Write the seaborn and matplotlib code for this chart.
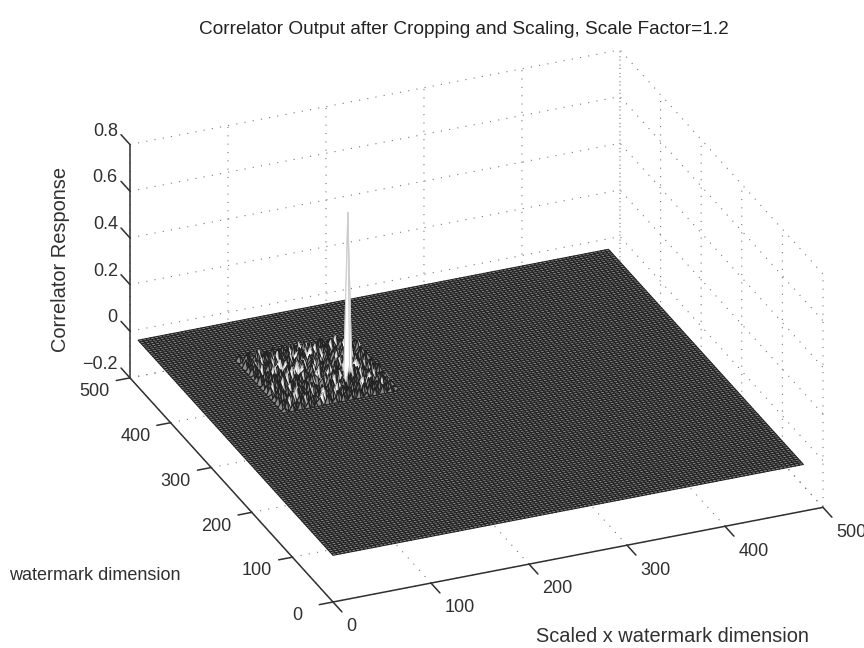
import numpy as np
import seaborn as sns
import matplotlib
matplotlib.use('Agg')
import matplotlib.pyplot as plt
from mpl_toolkits.mplot3d import proj3d

title = 'Correlator Output after Cropping and Scaling, Scale Factor=1.2'
x_label = 'Scaled x watermark dimension'
y_label = 'watermark dimension'
z_label = 'Correlator Response'
x_ticks = [0, 100, 200, 300, 400, 500]
y_ticks = [0, 100, 200, 300, 400, 500]
z_ticks = [-0.2, 0, 0.2, 0.4, 0.6, 0.8]
z_tick_labels = ['\u22120.2', '0', '0.2', '0.4', '0.6', '0.8']

surface_end = 480
mesh_step = 4
patch_x0 = 72
patch_y0 = 292
peak_x = 156
peak_y = 340
peak_value = 0.69

# correlator noise in the cropped area, thousandths, read by eye
patch_noise = [
    [12, -8, 21, -14, 30, -6, 18, -20, 9, 26, -12, 33, -4, 15, -22, 28, -9, 19, -16, 36, -7, 12, -18, 25, -11, 31, -5, 14, -10],
    [-15, 34, -7, 19, -24, 41, -11, 27, -18, 8, 38, -16, 22, -27, 35, -3, 24, -19, 30, -8, 17, -25, 39, -6, 20, -14, 27, -20, 8],
    [26, -12, 38, -20, 11, -9, 32, -5, 24, -28, 14, 29, -13, 40, -8, 18, -26, 33, -10, 22, -29, 35, -4, 16, -21, 37, -12, 24, -6],
    [-9, 22, -17, 44, -6, 25, -23, 36, -14, 19, -7, 42, -21, 12, 28, -17, 34, -5, 20, -24, 41, -9, 15, -30, 26, -8, 33, -15, 19],
    [31, -22, 14, -10, 36, -18, 9, -26, 40, -5, 23, -19, 35, -11, 6, 38, -13, 21, -27, 32, -6, 24, -16, 37, -10, 18, -23, 29, -7],
    [-6, 17, -29, 27, -13, 45, -4, 20, -16, 33, -24, 11, -8, 30, -21, 16, -7, 43, -12, 25, -19, 10, 34, -14, 28, -26, 13, -9, 22],
    [20, -11, 37, -5, 23, -25, 30, -12, 7, -19, 39, -6, 26, -15, 42, -23, 29, -3, 18, -28, 37, -13, 21, -5, 40, -11, 24, -17, 31],
    [-18, 28, -8, 16, -31, 12, -15, 35, -22, 43, -10, 21, -28, 9, -5, 33, -18, 24, -9, 46, -16, 31, -7, 19, -24, 35, -4, 27, -12],
    [9, -25, 41, -14, 29, -7, 38, -3, 18, -12, 27, -33, 16, 37, -19, 11, 40, -14, 30, -6, 22, -20, 44, -11, 15, -8, 32, -21, 16],
    [34, -4, 13, -21, 6, 32, -19, 24, -30, 36, -8, 19, -11, 25, -6, 44, -25, 8, -17, 35, -10, 27, -3, 38, -18, 29, -14, 10, -5],
    [-13, 39, -26, 33, -9, 17, -6, 42, -11, 21, -17, 46, -5, -24, 31, -12, 20, -30, 38, -4, 28, -15, 18, -27, 42, -7, 23, -28, 36],
    [23, -7, 18, -12, 44, -20, 26, -16, 31, -3, 12, -27, 34, 15, -10, 27, -5, 36, -13, 23, -32, 41, -9, 30, -12, 20, -6, 37, -11],
    [-21, 30, -3, 25, -17, 37, -10, 14, -24, 40, -13, 28, -8, 38, -20, 5, 33, -16, 26, -9, 16, 0, 35, -19, 8, -25, 34, -13, 24],
    [15, -16, 35, -28, 11, -5, 43, -22, 29, -7, 33, -18, 20, -12, 45, -26, 17, -8, 41, -21, 30, 60, -6, 24, -14, 39, -10, 18, -4],
    [-4, 26, -13, 40, -23, 21, -8, 34, -15, 17, -29, 37, -5, 24, -9, 31, -14, 39, -3, 19, -11, 36, -22, 13, 33, -7, 27, -19, 29],
    [37, -19, 8, -9, 28, -31, 16, -6, 45, -20, 10, 23, -16, 41, -28, 12, -7, 25, -24, 34, -6, 14, 43, -10, 21, -30, 15, -8, 12],
    [-10, 24, -35, 32, -4, 19, -14, 39, -2, 27, -12, 35, -22, 7, 29, -18, 37, -11, 16, -29, 40, -17, 9, 32, -5, 25, -12, 38, -16],
    [18, -6, 29, -15, 42, -11, 25, -27, 13, -9, 44, -3, 18, -31, 36, -5, 22, -20, 43, -7, 11, 30, -13, 19, -26, 36, -4, 21, -9],
    [-24, 33, -10, 20, -7, 36, -19, 8, 30, -16, 22, -25, 39, -10, 14, -23, 46, -6, 24, -13, 33, -8, 27, -18, 41, -10, 16, -27, 30],
    [6, -14, 43, -26, 15, -2, 28, -12, 38, -5, 17, -9, 31, 20, -14, 35, -9, 27, -33, 18, -5, 39, -21, 12, -7, 30, -15, 34, -3],
    [29, -9, 17, -5, 34, -22, 11, 41, -18, 25, -30, 36, -7, 26, -4, 16, -28, 38, -8, 29, -17, 23, -6, 44, -13, 19, -24, 9, -12],
    [-12, 35, -20, 27, -13, 40, -7, 19, -4, 33, -11, 14, -24, 43, -17, 30, -5, 12, -15, 37, -10, 31, -26, 7, 28, -9, 39, -18, 25],
    [21, -27, 10, -33, 24, -6, 31, -16, 26, -21, 42, -6, 20, -12, 34, -8, 23, -32, 40, -3, 15, -12, 36, -19, 17, -5, 22, -7, 14],
    [-5, 16, -8, 38, -11, 18, -25, 35, -9, 13, -3, 29, -17, 37, -23, 11, 41, -14, 25, -20, 44, -6, 19, -28, 34, -13, 30, -22, 37],
    [33, -17, 25, -4, 30, -14, 5, -10, 44, -26, 21, -13, 8, 24, -6, 36, -11, 28, -7, 17, -24, 33, -9, 13, -4, 42, -16, 11, -8],
    [-19, 12, -30, 19, -22, 37, -12, 28, -7, 15, -31, 39, -9, -19, 32, -26, 9, -5, 35, -12, 27, -3, 40, -15, 23, -10, 18, -29, 26],
    [10, 40, -6, 26, -9, 13, -28, 22, -16, 34, -5, 18, -22, 45, -13, 20, -30, 37, -18, 31, -8, 16, -25, 30, -6, 26, -11, 35, -4],
    [-7, -23, 32, -15, 39, -4, 27, -8, 36, -11, 25, -14, 33, -6, 12, -10, 43, -9, 14, -21, 38, -13, 22, -5, 37, -20, 8, -14, 20],
    [24, -10, 14, -19, 8, 29, -17, 16, -24, 9, -6, 28, -12, 19, -25, 30, -4, 21, -11, 6, -16, 26, -8, 17, -12, 11, -7, 23, -10],
]

sns.set_theme(style='white')
plt.rcParams['font.family'] = ['Liberation Sans', 'DejaVu Sans']
ink = '#303030'

fig = plt.figure(figsize=(8.64, 6.48), dpi=100, facecolor='white')
ax = fig.add_subplot(projection='3d', proj_type='ortho', computed_zorder=False)
ax.view_init(elev=27.5, azim=-112.7)
ax.set_box_aspect((531, 526, 263))
ax.set_xlim(0, 500)
ax.set_ylim(0, 500)
ax.set_zlim(-0.2, 0.8)
ax.set_xticks([])
ax.set_yticks([])
ax.set_zticks([])
ax.set_axis_off()
ax.patch.set_alpha(0)


def to_px(x, y, z):
    xs, ys, _ = proj3d.proj_transform(x, y, z, ax.get_proj())
    return ax.transData.transform((xs, ys))


# fit the box to the reference: origin at pixel (333, 602), x axis 490 px wide
side = 600.0
left = 100.0
bottom = 20.0
for i in range(3):
    ax.set_position([left / 864, bottom / 648, side / 864, side / 648])
    fig.canvas.draw()
    p0 = to_px(0, 0, -0.2)
    p1 = to_px(500, 0, -0.2)
    k = 490.0 / (p1[0] - p0[0])
    left += 333 - p0[0] - (k - 1) * side / 2
    bottom += 46 - p0[1] - (k - 1) * side / 2
    side *= k
ax.set_position([left / 864, bottom / 648, side / 864, side / 648])

z_low, z_high = z_ticks[0], z_ticks[-1]
grid_style = dict(color='#777777', lw=0.8, ls=(0, (1, 6.5)), zorder=1)
for z in z_ticks:
    ax.plot([0, 500, 500], [500, 500, 0], [z, z, z], **grid_style)
for x in x_ticks:
    ax.plot([x, x, x], [0, 500, 500], [z_low, z_low, z_high], **grid_style)
for y in y_ticks:
    ax.plot([0, 500, 500], [y, y, y], [z_low, z_low, z_high], **grid_style)

axis_style = dict(color=ink, lw=1.1, zorder=3)
ax.plot([0, 500], [0, 0], [z_low, z_low], **axis_style)
ax.plot([0, 0], [0, 500], [z_low, z_low], **axis_style)
ax.plot([0, 0], [500, 500], [z_low, z_high], **axis_style)

tick_size = 13
for x in x_ticks:
    ax.plot([x, x], [0, -22], [z_low, z_low], **axis_style)
    ax.text(x - 8, -52, z_low, str(x), ha='left', va='center', fontsize=tick_size, color=ink)
for y in y_ticks:
    ax.plot([0, -14], [y, y], [z_low, z_low], **axis_style)
    ax.text(-36, y, z_low - 0.03, str(y), ha='center', va='center', fontsize=tick_size, color=ink)
for z, label in zip(z_ticks, z_tick_labels):
    ax.plot([0, 0], [500, 522], [z, z], **axis_style)
    ax.text(0, 530, z, label, ha='right', va='center', fontsize=tick_size, color=ink)

grid_x = np.arange(0, surface_end + mesh_step, mesh_step)
grid_y = np.arange(0, surface_end + mesh_step, mesh_step)
X, Y = np.meshgrid(grid_x, grid_y)
Z = np.zeros_like(X, dtype=float)
noise = np.array(patch_noise) / 1000.0
row0 = patch_y0 // mesh_step
col0 = patch_x0 // mesh_step
Z[row0:row0 + noise.shape[0], col0:col0 + noise.shape[1]] = noise
Z[peak_y // mesh_step, peak_x // mesh_step] = peak_value

surf = ax.plot_surface(X, Y, Z, rstride=1, cstride=1, color='white', edgecolor='black',
                       linewidth=0.75, shade=False, zorder=2)
# the flat mesh reads as low contrast grey, raised cells as pale blobs
cell_mean = (Z[:-1, :-1] + Z[1:, :-1] + Z[:-1, 1:] + Z[1:, 1:]).ravel() / 4
raised = cell_mean > 0.012
edge_colors = np.ones((cell_mean.size, 4))
edge_colors[:, :3] = np.where(raised, 0.8, 0.13)[:, None]
face_colors = np.ones((cell_mean.size, 4))
face_colors[:, :3] = np.where(raised, 1.0, 0.55)[:, None]
surf.set_edgecolor(edge_colors)
surf.set_facecolor(face_colors)

fig.text(464 / 864, 1 - 30 / 648, title, ha='center', va='center', fontsize=13.7, color='#222222')
fig.text(60 / 864, 1 - 260 / 648, z_label, rotation=90, ha='center', va='center', fontsize=14.4, color=ink)
fig.text(672 / 864, 1 - 636 / 648, x_label, ha='center', va='center', fontsize=14.4, color=ink)
fig.text(95 / 864, 1 - 576 / 648, y_label, ha='center', va='center', fontsize=13, color=ink)

fig.savefig('out.png', dpi=100)
